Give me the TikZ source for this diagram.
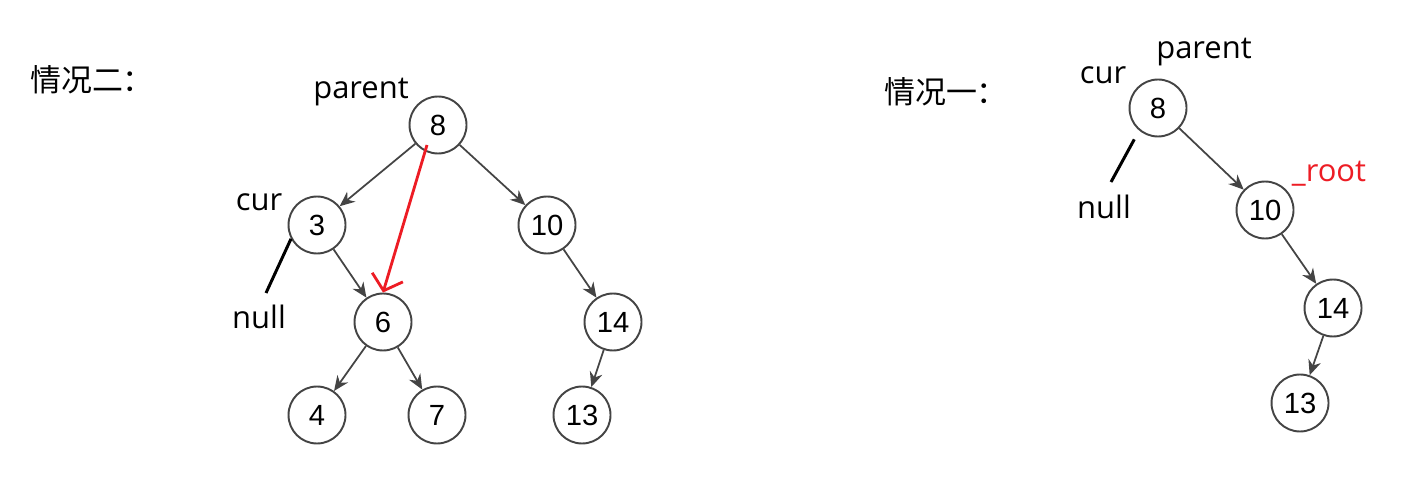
\documentclass[tikz,border=0pt]{standalone}
\usepackage{fontspec}
\setmainfont{Open Sans}
\newfontfamily\cjk{Noto Sans CJK SC}
\newfontfamily\digits{Liberation Sans}
\usetikzlibrary{arrows.meta}

\definecolor{treegray}{HTML}{444444}
\definecolor{markred}{HTML}{ED1C24}

\tikzset{
  tnode/.style={circle, draw=treegray, line width=0.55pt, minimum size=5.7mm, inner sep=0pt,
    font=\digits\fontsize{8.3}{10}\selectfont},
  tedge/.style={draw=treegray, line width=0.5pt, -{Stealth[length=1.5mm,width=1.3mm]}},
  lbl/.style={font=\fontsize{8.8}{10}\selectfont},
  title/.style={font=\cjk\fontsize{8.8}{10}\selectfont},
  nullline/.style={draw=black, line width=0.85pt},
  redarrow/.style={draw=markred, line width=0.8pt, -{Straight Barb[length=1.4mm,width=3.2mm]}}
}

\begin{document}
\begin{tikzpicture}[x=0.1mm, y=-0.1mm]
    % Fix the canvas
    \useasboundingbox (0,0) rectangle (1426,485);

    % Case two: the left tree
    \node[title] (t2) at (92,80) {情况二：};
    \node[tnode] (a8) at (438,125) {8};
    \node[tnode] (a3) at (317,225) {3};
    \node[tnode] (a10) at (547,225) {10};
    \node[tnode] (a6) at (383,322) {6};
    \node[tnode] (a14) at (613,322) {14};
    \node[tnode] (a4) at (317,415) {4};
    \node[tnode] (a7) at (437,415) {7};
    \node[tnode] (a13) at (582,415) {13};

    % Edges of the left tree
    \draw[tedge] (a8) -- (a3);
    \draw[tedge] (a8) -- (a10);
    \draw[tedge] (a3) -- (a6);
    \draw[tedge] (a10) -- (a14);
    \draw[tedge] (a6) -- (a4);
    \draw[tedge] (a6) -- (a7);
    \draw[tedge] (a14) -- (a13);

    % Labels of the left tree
    \node[lbl] (aparent) at (361,92) {parent};
    \node[lbl] (acur) at (259,202) {cur};
    \node[lbl] (anull) at (259,317) {null};
    \coordinate (anullend) at (266,293);
    \draw[nullline] (a3.208) -- (anullend);

    % Red link from 8 to 6
    \coordinate (redstart) at (427,145);
    \draw[redarrow] (redstart) -- (a6.north);

    % Case one: the right tree
    \node[title] (t1) at (946,92) {情况一：};
    \node[tnode] (b8) at (1158,108) {8};
    \node[tnode] (b10) at (1265,210) {10};
    \node[tnode] (b14) at (1333,308) {14};
    \node[tnode] (b13) at (1300,403) {13};

    % Edges of the right tree
    \draw[tedge] (b8) -- (b10);
    \draw[tedge] (b10) -- (b14);
    \draw[tedge] (b14) -- (b13);

    % Labels of the right tree
    \node[lbl] (bparent) at (1204,52) {parent};
    \node[lbl] (bcur) at (1103,75) {cur};
    \node[lbl] (bnull) at (1104,207) {null};
    \node[lbl, text=markred] (broot) at (1329,174) {\_root};
    \coordinate (bnullend) at (1111,182);
    \draw[nullline, shorten <=1mm] (b8.230) -- (bnullend);

\end{tikzpicture}
\end{document}
